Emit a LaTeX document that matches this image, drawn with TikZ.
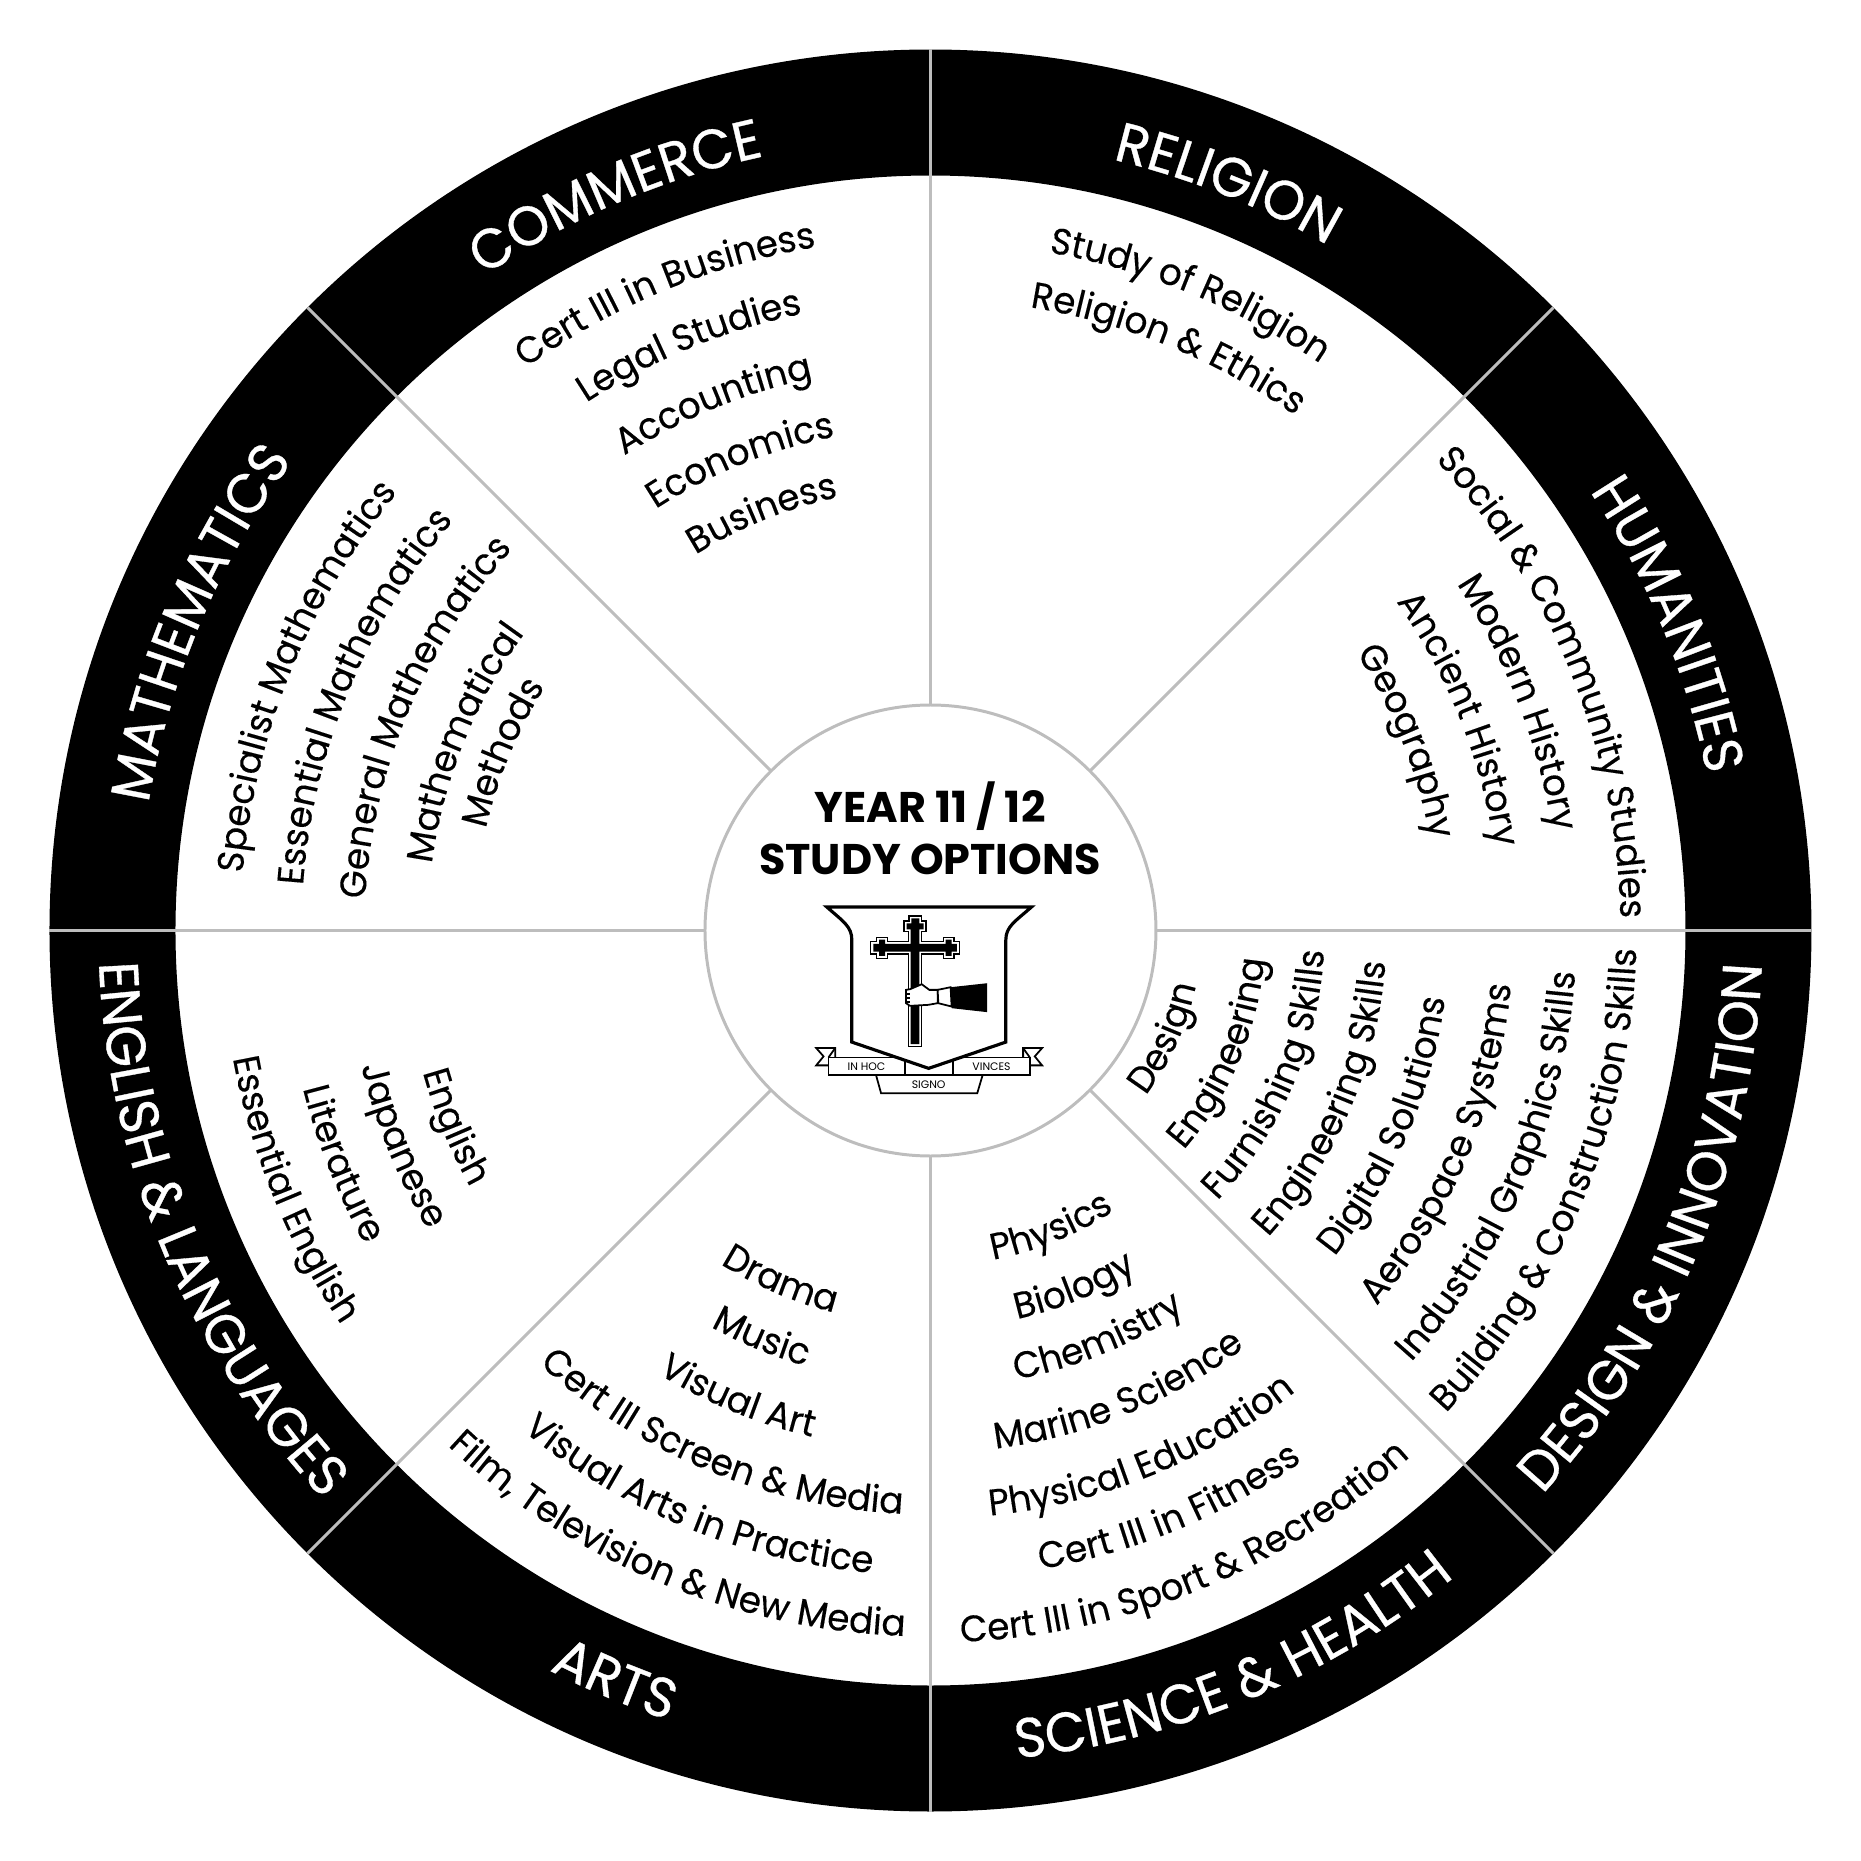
\documentclass[tikz,border=0pt]{standalone}
\usepackage{fontspec}
\usetikzlibrary{decorations.text}
\setmainfont{Poppins}
\newfontfamily\itemfont[FakeStretch=0.97, FakeBold=0.25]{Poppins}
\newfontfamily\ringfont[FakeStretch=0.97, FakeBold=0.6]{Poppins}
\definecolor{mgray}{rgb}{0.74, 0.74, 0.74}
\tikzset{spoke/.style = {draw=mgray, line width=0.85pt}}
\tikzset{crestline/.style = {draw=black, line width=0.5pt}}
\tikzset{bannertext/.style = {inner sep=0, font=\fontsize{3.1}{4}\selectfont}}
\tikzset{titletext/.style = {inner sep=0, font=\fontsize{12.2}{15}\selectfont\bfseries}}
\newcommand{\cwtext}[4]{\path[decorate, decoration={text along path, text={|#1|#4}, text align=center}]
    ({#2*cos(#3+80)}, {#2*sin(#3+80)}) arc[start angle=#3+80, end angle=#3-80, radius=#2];}
\newcommand{\ccwtext}[4]{\path[decorate, decoration={text along path, text={|#1|#4}, text align=center}]
    ({#2*cos(#3-80)}, {#2*sin(#3-80)}) arc[start angle=#3-80, end angle=#3+80, radius=#2];}
\newcommand{\itm}{\itemfont\fontsize{10.5}{12}\selectfont}
\newcommand{\rng}{\ringfont\fontsize{15.8}{18}\selectfont\color{white}}

\begin{document}
\begin{tikzpicture}

      \useasboundingbox (-9.305,-9.305) rectangle (9.305,9.305);

      \def\ro{8.81}
      \def\ri{7.55}
      \def\rc{2.255}

      \fill[black, even odd rule] (0,0) circle (\ro) (0,0) circle (\ri);

      \draw[spoke] ({\rc*cos(0)},   {\rc*sin(0)})   -- ({\ro*cos(0)},   {\ro*sin(0)});
      \draw[spoke] ({\rc*cos(45)},  {\rc*sin(45)})  -- ({\ro*cos(45)},  {\ro*sin(45)});
      \draw[spoke] ({\rc*cos(90)},  {\rc*sin(90)})  -- ({\ro*cos(90)},  {\ro*sin(90)});
      \draw[spoke] ({\rc*cos(135)}, {\rc*sin(135)}) -- ({\ro*cos(135)}, {\ro*sin(135)});
      \draw[spoke] ({\rc*cos(180)}, {\rc*sin(180)}) -- ({\ro*cos(180)}, {\ro*sin(180)});
      \draw[spoke] ({\rc*cos(225)}, {\rc*sin(225)}) -- ({\ro*cos(225)}, {\ro*sin(225)});
      \draw[spoke] ({\rc*cos(270)}, {\rc*sin(270)}) -- ({\ro*cos(270)}, {\ro*sin(270)});
      \draw[spoke] ({\rc*cos(315)}, {\rc*sin(315)}) -- ({\ro*cos(315)}, {\ro*sin(315)});
      \draw[spoke] (0,0) circle (\rc);

      % ring
      \cwtext{\rng}{7.92}{68.3}{RELIGION}
      \cwtext{\rng}{7.92}{113.2}{COMMERCE}
      \cwtext{\rng}{7.92}{22.5}{HUMANITIES}
      \cwtext{\rng}{7.92}{157.2}{MATHEMATICS}
      \ccwtext{\rng}{8.32}{202.7}{ENGLISH {\&} LANGUAGES}
      \ccwtext{\rng}{8.32}{247.2}{ARTS}
      \ccwtext{\rng}{8.32}{292.5}{SCIENCE {\&} HEALTH}
      \ccwtext{\rng}{8.32}{337.5}{DESIGN {\&} INNOVATION}

      % religion
      \cwtext{\itm}{6.88}{67.8}{Study of Religion}
      \cwtext{\itm}{6.31}{67.8}{Religion {\&} Ethics}

      % commerce
      \cwtext{\itm}{6.93}{112.6}{Cert III in Business}
      \cwtext{\itm}{6.30}{112.4}{Legal Studies}
      \cwtext{\itm}{5.65}{112.4}{Accounting}
      \cwtext{\itm}{5.03}{112}{Economics}
      \cwtext{\itm}{4.43}{112}{Business}

      % humanities
      \cwtext{\itm}{6.90}{22}{Social {\&} Community Studies}
      \cwtext{\itm}{6.30}{21.2}{Modern History}
      \cwtext{\itm}{5.70}{21.8}{Ancient History}
      \cwtext{\itm}{5.08}{21.7}{Geography}

      % design
      \ccwtext{\itm}{2.71}{335.4}{Design}
      \ccwtext{\itm}{3.35}{337.1}{Engineering}
      \ccwtext{\itm}{3.94}{336.9}{Furnishing Skills}
      \ccwtext{\itm}{4.56}{336.9}{Engineering Skills}
      \ccwtext{\itm}{5.19}{336.8}{Digital Solutions}
      \ccwtext{\itm}{5.83}{337.3}{Aerospace Systems}
      \ccwtext{\itm}{6.46}{337.2}{Industrial Graphics Skills}
      \ccwtext{\itm}{7.06}{337.7}{Building {\&} Construction Skills}

      % science
      \ccwtext{\itm}{3.35}{292}{Physics}
      \ccwtext{\itm}{3.98}{291.9}{Biology}
      \ccwtext{\itm}{4.57}{292.3}{Chemistry}
      \ccwtext{\itm}{5.22}{292.1}{Marine Science}
      \ccwtext{\itm}{5.88}{292.1}{Physical Education}
      \ccwtext{\itm}{6.48}{292.4}{Cert III in Fitness}
      \ccwtext{\itm}{7.12}{292.4}{Cert III in Sport {\&} Recreation}

      % arts
      \ccwtext{\itm}{3.94}{246.8}{Drama}
      \ccwtext{\itm}{4.53}{247.5}{Music}
      \ccwtext{\itm}{5.20}{247.6}{Visual Art}
      \ccwtext{\itm}{5.84}{247.6}{Cert III Screen {\&} Media}
      \ccwtext{\itm}{6.45}{247.8}{Visual Arts in Practice}
      \ccwtext{\itm}{7.06}{247.4}{Film, Television {\&} New Media}

      % english
      \ccwtext{\itm}{5.27}{202.4}{English}
      \ccwtext{\itm}{5.85}{202.1}{Japanese}
      \ccwtext{\itm}{6.47}{201.6}{Literature}
      \ccwtext{\itm}{7.09}{202.1}{Essential English}

      % mathematics
      \cwtext{\itm}{6.90}{157.9}{Specialist Mathematics}
      \cwtext{\itm}{6.29}{157.6}{Essential Mathematics}
      \cwtext{\itm}{5.66}{157.2}{General Mathematics}
      \cwtext{\itm}{5.03}{158.1}{Mathematical}
      \cwtext{\itm}{4.56}{157.4}{Methods}

      % crest, in units of a 3x crop
      \begin{scope}[x=0.003333cm, y=-0.003333cm, shift={(-691.5,-691.5)}]

        \node[titletext] (year) at (690,318) {YEAR 11 / 12};
        \node[titletext] (study) at (690,478) {STUDY OPTIONS};

        \draw[crestline] (385,1073) rectangle (990,1127);
        \draw[crestline] (528,1127) -- (543,1181) -- (832,1181) -- (848,1127);
        \draw[crestline] (405,1073) -- (405,1045) -- (348,1045) -- (370,1070) -- (348,1097) -- (385,1097);
        \draw[crestline] (405,1045) -- (385,1073);
        \draw[crestline] (970,1073) -- (970,1045) -- (1027,1045) -- (1005,1070) -- (1027,1097) -- (990,1097);
        \draw[crestline] (970,1045) -- (990,1073);
        \draw[crestline] (614,1075) -- (614,1127);
        \draw[crestline] (760,1075) -- (760,1127);

        \node[bannertext] (inhoc) at (499,1101) {IN HOC};
        \node[bannertext] (vinces) at (875,1101) {VINCES};
        \node[bannertext] (signo) at (686,1155) {SIGNO};

        \draw[fill=white, line width=0.9pt] (380,621) -- (995,621)
          .. controls (945,665) and (918,680) .. (918,720) -- (918,1027) -- (686,1106) -- (455,1027) -- (455,720)
          .. controls (455,680) and (430,665) .. (380,621) -- cycle;

        \draw[crestline, line width=0.35pt] (512,725) -- (530,725) -- (530,712) -- (562,712) -- (562,725) -- (625,725)
          -- (625,695) -- (612,695) -- (612,663) -- (627,663) -- (627,648) -- (665,648) -- (665,663) -- (678,663)
          -- (678,695) -- (665,695) -- (665,725) -- (730,725) -- (730,712) -- (762,712) -- (762,725) -- (778,725)
          -- (778,762) -- (762,762) -- (762,775) -- (730,775) -- (730,762) -- (665,762) -- (665,1040) -- (625,1040)
          -- (625,762) -- (562,762) -- (562,775) -- (530,775) -- (530,762) -- (512,762) -- cycle;
        \fill (520,732) -- (537,732) -- (537,719) -- (555,719) -- (555,732) -- (632,732)
          -- (632,688) -- (620,688) -- (620,670) -- (634,670) -- (634,655) -- (658,655) -- (658,670) -- (671,670)
          -- (671,688) -- (658,688) -- (658,732) -- (737,732) -- (737,719) -- (755,719) -- (755,732) -- (771,732)
          -- (771,755) -- (755,755) -- (755,768) -- (737,768) -- (737,755) -- (658,755) -- (658,1033) -- (632,1033)
          -- (632,755) -- (555,755) -- (555,768) -- (537,768) -- (537,755) -- (520,755) -- cycle;

        \draw[crestline, fill=white] (630,868) -- (665,853) -- (688,870) -- (713,870) -- (713,910) -- (685,915)
          -- (630,918) -- (618,910) -- (618,870) -- cycle;
        \draw[crestline, fill=white] (713,870) -- (752,862) -- (755,920) -- (715,910) -- cycle;
        \fill (752,862) -- (862,850) -- (862,937) -- (755,925) -- cycle;
        \draw[crestline] (618,883) -- (630,883);
        \draw[crestline] (618,895) -- (630,895);
        \draw[crestline] (618,907) -- (630,907);

      \end{scope}

    \end{tikzpicture}
\end{document}
